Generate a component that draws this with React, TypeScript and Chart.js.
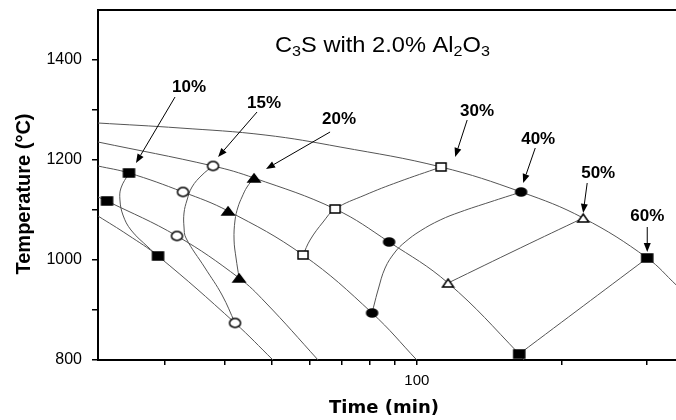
import React, { useEffect, useRef } from 'react';
import { Chart, registerables } from 'chart.js';

Chart.register(...registerables);

// ---------- axis ticks ----------
const xTickValues = [30, 40, 50, 60, 70, 80, 90, 100, 200, 300];
const xTickLabels = [100];
const yTickValues = [800, 900, 1000, 1100, 1200, 1300, 1400];
const yTickLabels = [800, 1000, 1200, 1400];

// ---------- descending time-temperature curves ----------
const curveATime = [21.8, 32.26, 48.43, 69.3, 112.3, 164.6, 221.4, 300.7, 345.4, 369.3];
const curveATemp = [1274, 1264, 1250, 1226, 1186, 1136, 1084, 1004, 950, 924];
const curveBTime = [21.8, 37.77, 45.95, 67.68, 87.6, 116.1, 163.1, 170.2];
const curveBTemp = [1236, 1188, 1164, 1102, 1036, 954, 812, 788];
const curveCTime = [21.8, 25.28, 32.72, 40.58, 58.07, 80.76, 100, 102.6];
const curveCTemp = [1188, 1174, 1136, 1098, 1010, 894, 800, 788];
const curveDTime = [21.8, 22.76, 31.79, 42.78, 48.43, 62.39, 63.9];
const curveDTemp = [1126, 1118, 1048, 964, 916, 800, 788];
const curveETime = [21.8, 25.16, 29.04, 41.96, 50.31, 51.8];
const curveETemp = [1088, 1050, 1008, 874, 800, 788];

// ---------- iso-conversion curves ----------
const conv10Time = [25.28, 24.33, 24.21, 24.56, 25.52, 27.68, 29.04];
const conv10Temp = [1174, 1144, 1120, 1090, 1060, 1026, 1008];
const conv15Time = [37.77, 35.84, 34.16, 33.36, 32.88, 32.88, 33.19, 36.36, 39.43, 41.96];
const conv15Temp = [1188, 1170, 1146, 1120, 1094, 1066, 1044, 984, 930, 874];
const conv20Time = [45.95, 44.43, 43.38, 42.56, 41.96, 41.76, 42.16, 42.78];
const conv20Temp = [1164, 1146, 1126, 1106, 1080, 1040, 1004, 964];
const conv30Time = [112.3, 91.46, 78.11, 67.68, 63.9, 60.05, 58.07];
const conv30Temp = [1186, 1156, 1130, 1102, 1076, 1040, 1010];
const conv40Time = [164.6, 141.9, 123.0, 111.8, 101.6, 94.56, 90.15, 85.94, 83.09, 81.53, 80.76];
const conv40Temp = [1136, 1116, 1096, 1080, 1058, 1036, 1016, 984, 940, 910, 894];
const conv50Time = [221.4, 163.9, 116.1];
const conv50Temp = [1084, 1024, 954];
const conv60Time = [300.7, 163.1];
const conv60Temp = [1004, 812];

// ---------- measured points ----------
const pts10Time = [25.28, 22.76, 29.04];
const pts10Temp = [1174, 1118, 1008];
const pts15Time = [37.77, 32.72, 31.79, 41.96];
const pts15Temp = [1188, 1136, 1048, 874];
const pts20Time = [45.95, 40.58, 42.78];
const pts20Temp = [1164, 1098, 964];
const pts30Time = [112.3, 67.68, 58.07];
const pts30Temp = [1186, 1102, 1010];
const pts40Time = [164.6, 87.6, 80.76];
const pts40Temp = [1136, 1036, 894];
const pts50Time = [221.4, 116.1];
const pts50Temp = [1084, 954];
const pts60Time = [300.7, 163.1];
const pts60Temp = [1004, 812];

// ---------- annotations ----------
const noteLabels = ['10%', '15%', '20%', '30%', '40%', '50%', '60%'];
const noteTextTime = [33.68, 48.19, 68.99, 133.4, 178.6, 237.9, 300.7];
const noteTextTemp = [1346, 1314, 1282, 1298, 1242, 1174, 1088];
const arrowFromTime = [31.5, 46.61, 66.07, 127.2, 176.1, 225.7, 300.7];
const arrowFromTemp = [1326, 1296, 1256, 1280, 1224, 1154, 1066];
const arrowToTime = [26.14, 38.69, 48.65, 120.1, 166.2, 221.4, 300.7];
const arrowToTemp = [1194, 1206, 1182, 1206, 1154, 1094, 1016];

const titleParts: [string, boolean][] = [
  ['C', false], ['3', true], ['S with 2.0% Al', false], ['2', true], ['O', false], ['3', true],
];
const xTitle = 'Time (min)';
const yTitle = 'Temperature (°C)';

const FONT = "'Liberation Sans', Arial, sans-serif";

const zip = (xs: number[], ys: number[]) => xs.map((x, i) => ({ x, y: ys[i] }));

function makeMarker(shape: 'square' | 'circle' | 'triangle', filled: boolean, w: number, h: number) {
  const pad = 2;
  const c = document.createElement('canvas');
  c.width = w + pad * 2;
  c.height = h + pad * 2;
  const ctx = c.getContext('2d')!;
  ctx.lineWidth = 1.5;
  ctx.strokeStyle = '#000';
  ctx.fillStyle = filled ? '#000' : '#fff';
  const cx = c.width / 2;
  const cy = c.height / 2;
  ctx.beginPath();
  if (shape === 'square') ctx.rect(cx - w / 2, cy - h / 2, w, h);
  else if (shape === 'circle') ctx.ellipse(cx, cy, w / 2, h / 2, 0, 0, Math.PI * 2);
  else {
    ctx.moveTo(cx, cy - h / 2);
    ctx.lineTo(cx + w / 2, cy + h / 2);
    ctx.lineTo(cx - w / 2, cy + h / 2);
    ctx.closePath();
  }
  ctx.fill();
  ctx.stroke();
  return c;
}

const decorPlugin = {
  id: 'decor',
  afterDraw(chart: any) {
    const { ctx, chartArea, scales } = chart;
    const xs = scales.x;
    const ys = scales.y;
    ctx.save();
    // top frame line
    ctx.strokeStyle = '#000';
    ctx.lineWidth = 2;
    ctx.beginPath();
    ctx.moveTo(chartArea.left - 1, chartArea.top);
    ctx.lineTo(chartArea.right, chartArea.top);
    ctx.stroke();

    // title with subscripts (slightly widened, as in the original)
    ctx.save();
    ctx.translate(275, 52);
    ctx.scale(1.075, 1);
    let tx = 0;
    ctx.fillStyle = '#000';
    ctx.textBaseline = 'alphabetic';
    ctx.textAlign = 'left';
    for (const [t, sub] of titleParts) {
      ctx.font = sub ? `15px ${FONT}` : `22px ${FONT}`;
      ctx.fillText(t, tx, sub ? 4 : 0);
      tx += ctx.measureText(t).width;
    }
    ctx.restore();

    // axis titles
    ctx.fillStyle = '#000';
    ctx.font = `bold 18px 'DejaVu Sans', ${FONT}`;
    ctx.textAlign = 'center';
    ctx.textBaseline = 'alphabetic';
    ctx.fillText(xTitle, 384, 413);
    ctx.save();
    ctx.translate(24, 194);
    ctx.rotate(-Math.PI / 2);
    ctx.font = `bold 20px ${FONT}`;
    ctx.textBaseline = 'middle';
    ctx.fillText(yTitle, 0, 0);
    ctx.restore();

    // annotations
    ctx.font = `bold 17px ${FONT}`;
    ctx.textAlign = 'center';
    ctx.textBaseline = 'middle';
    noteLabels.forEach((lab, i) => {
      const lx = xs.getPixelForValue(noteTextTime[i]);
      const ly = ys.getPixelForValue(noteTextTemp[i]);
      ctx.fillText(lab, lx, ly);
      const x1 = xs.getPixelForValue(arrowFromTime[i]);
      const y1 = ys.getPixelForValue(arrowFromTemp[i]);
      const x2 = xs.getPixelForValue(arrowToTime[i]);
      const y2 = ys.getPixelForValue(arrowToTemp[i]);
      const ang = Math.atan2(y2 - y1, x2 - x1);
      const hl = 9;
      const hw = 3.5;
      const bx = x2 - hl * Math.cos(ang);
      const by = y2 - hl * Math.sin(ang);
      ctx.strokeStyle = '#000';
      ctx.lineWidth = 1;
      ctx.beginPath();
      ctx.moveTo(x1, y1);
      ctx.lineTo(bx, by);
      ctx.stroke();
      ctx.beginPath();
      ctx.moveTo(x2, y2);
      ctx.lineTo(bx + hw * Math.sin(ang), by - hw * Math.cos(ang));
      ctx.lineTo(bx - hw * Math.sin(ang), by + hw * Math.cos(ang));
      ctx.closePath();
      ctx.fill();
    });
    ctx.restore();
  },
};

export default function App() {
  const ref = useRef<HTMLCanvasElement | null>(null);

  useEffect(() => {
    document.body.style.margin = '0';
    const canvas = ref.current;
    if (!canvas) return;

    const lineDs = (xs: number[], ys: number[]) => ({
      type: 'line' as const,
      data: zip(xs, ys),
      borderColor: '#555',
      borderWidth: 1,
      pointRadius: 0,
      tension: 0.4,
      fill: false,
      order: 1,
    });
    const markDs = (xs: number[], ys: number[], style: HTMLCanvasElement) => ({
      type: 'scatter' as const,
      data: zip(xs, ys),
      pointStyle: style,
      pointRadius: 5,
      showLine: false,
      order: 0,
    });

    const fSq = makeMarker('square', true, 11, 8);
    const oCi = makeMarker('circle', false, 11, 9);
    const fTr = makeMarker('triangle', true, 12, 8);
    const oSq = makeMarker('square', false, 10, 8);
    const fCi = makeMarker('circle', true, 11, 8);
    const oTr = makeMarker('triangle', false, 11, 8);

    const chart = new Chart(canvas, {
      type: 'scatter',
      data: {
        datasets: [
          lineDs(curveATime, curveATemp),
          lineDs(curveBTime, curveBTemp),
          lineDs(curveCTime, curveCTemp),
          lineDs(curveDTime, curveDTemp),
          lineDs(curveETime, curveETemp),
          lineDs(conv10Time, conv10Temp),
          lineDs(conv15Time, conv15Temp),
          lineDs(conv20Time, conv20Temp),
          lineDs(conv30Time, conv30Temp),
          lineDs(conv40Time, conv40Temp),
          lineDs(conv50Time, conv50Temp),
          lineDs(conv60Time, conv60Temp),
          markDs(pts10Time, pts10Temp, fSq),
          markDs(pts15Time, pts15Temp, oCi),
          markDs(pts20Time, pts20Temp, fTr),
          markDs(pts30Time, pts30Temp, oSq),
          markDs(pts40Time, pts40Temp, fCi),
          markDs(pts50Time, pts50Temp, oTr),
          markDs(pts60Time, pts60Temp, fSq),
        ] as any,
      },
      options: {
        animation: false,
        responsive: false,
        devicePixelRatio: 1,
        layout: { autoPadding: false, padding: { top: 10, right: 0, left: 0, bottom: 0 } },
        plugins: { legend: { display: false }, tooltip: { enabled: false }, title: { display: false } },
        scales: {
          x: {
            type: 'logarithmic',
            min: 21.8,
            max: 345,
            afterBuildTicks: (s: any) => {
              s.ticks = xTickValues.map((v) => ({ value: v }));
            },
            afterFit: (s: any) => {
              s.height = 60;
              s.paddingLeft = 0;
              s.paddingRight = 0;
              s.paddingTop = 0;
              s.paddingBottom = 0;
            },
            ticks: {
              autoSkip: false,
              maxRotation: 0,
              color: '#000',
              padding: 7,
              font: { family: FONT, size: 15 },
              callback: (v: any) => (xTickLabels.includes(Number(v)) ? String(v) : ''),
            },
            grid: { drawOnChartArea: false, drawTicks: true, tickLength: 5, color: '#000', lineWidth: 1.5 },
            border: { display: true, color: '#000', width: 2 },
          },
          y: {
            type: 'linear',
            min: 800,
            max: 1500,
            afterBuildTicks: (s: any) => {
              s.ticks = yTickValues.map((v) => ({ value: v }));
            },
            afterFit: (s: any) => {
              s.width = 98;
              s.paddingLeft = 0;
              s.paddingRight = 0;
              s.paddingTop = 0;
              s.paddingBottom = 0;
            },
            ticks: {
              color: '#000',
              padding: 10,
              font: { family: FONT, size: 16 },
              callback: (v: any) => (yTickLabels.includes(Number(v)) ? String(v) : ''),
            },
            grid: { drawOnChartArea: false, drawTicks: true, tickLength: 6, color: '#000', lineWidth: 1.5 },
            border: { display: true, color: '#000', width: 2 },
          },
        },
      } as any,
      plugins: [decorPlugin],
    });
    return () => chart.destroy();
  }, []);

  return (
    <div style={{ width: 676, height: 420 }}>
      <canvas ref={ref} width={676} height={420} style={{ display: 'block' }} />
    </div>
  );
}
